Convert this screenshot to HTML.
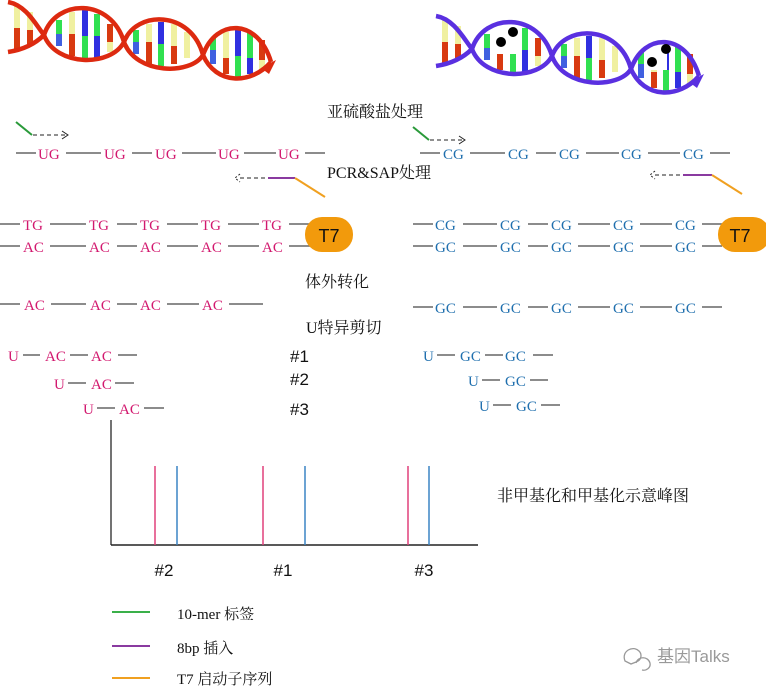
<!DOCTYPE html>
<html><head><meta charset="utf-8"><style>
html,body{margin:0;padding:0;background:#fff;}
svg{display:block;}
.s{font-family:"Liberation Serif","Noto Serif CJK SC",serif;font-size:15px;}
.m{fill:#d2186e;}
.b{fill:#1f6fae;}
.c{font-family:"Liberation Serif","Noto Serif CJK SC",serif;font-size:16px;fill:#111;}
.h{font-family:"Liberation Sans",sans-serif;font-size:18px;fill:#111;}
.g{stroke:#666;stroke-width:1.5;}
</style></head><body>
<svg width="766" height="687" viewBox="0 0 766 687" xmlns="http://www.w3.org/2000/svg">
<defs>
<g id="bars">
 <rect x="18" y="6" width="6" height="22" fill="#f0f0a0"/><rect x="18" y="28" width="6" height="22" fill="#d83a10"/>
 <rect x="31" y="12" width="6" height="18" fill="#f0f0a0"/><rect x="31" y="30" width="6" height="14" fill="#d83a10"/>
 <rect x="60" y="20" width="6" height="14" fill="#30e050"/><rect x="60" y="34" width="6" height="12" fill="#4060e0"/>
 <rect x="73" y="12" width="6" height="22" fill="#f0f0a0"/><rect x="73" y="34" width="6" height="22" fill="#d83a10"/>
 <rect x="86" y="10" width="6" height="26" fill="#3030e0"/><rect x="86" y="36" width="6" height="24" fill="#30e050"/>
 <rect x="98" y="14" width="6" height="22" fill="#30e050"/><rect x="98" y="36" width="6" height="22" fill="#3030e0"/>
 <rect x="111" y="24" width="6" height="18" fill="#d83a10"/><rect x="111" y="42" width="6" height="10" fill="#f0f0a0"/>
 <rect x="137" y="30" width="6" height="12" fill="#30e050"/><rect x="137" y="42" width="6" height="12" fill="#4060e0"/>
 <rect x="150" y="24" width="6" height="18" fill="#f0f0a0"/><rect x="150" y="42" width="6" height="22" fill="#d83a10"/>
 <rect x="162" y="22" width="6" height="22" fill="#3030e0"/><rect x="162" y="44" width="6" height="22" fill="#30e050"/>
 <rect x="175" y="24" width="6" height="22" fill="#f0f0a0"/><rect x="175" y="46" width="6" height="18" fill="#d83a10"/>
 <rect x="188" y="32" width="6" height="26" fill="#f0f0a0"/>
 <rect x="214" y="38" width="6" height="12" fill="#30e050"/><rect x="214" y="50" width="6" height="14" fill="#4060e0"/>
 <rect x="227" y="32" width="6" height="26" fill="#f0f0a0"/><rect x="227" y="58" width="6" height="16" fill="#d83a10"/>
 <rect x="239" y="30" width="6" height="26" fill="#3030e0"/><rect x="239" y="56" width="6" height="22" fill="#30e050"/>
 <rect x="251" y="32" width="6" height="26" fill="#30e050"/><rect x="251" y="58" width="6" height="16" fill="#3030e0"/>
 <rect x="263" y="40" width="6" height="20" fill="#d83a10"/><rect x="263" y="60" width="6" height="10" fill="#f0f0a0"/>
</g>
<path id="strand" d="M12,2 C30,5 40,25 48,35 M12,52 C25,50 38,45 48,35 M48,35 C60,-2 115,-2 128,42 M48,35 C60,67 115,67 128,42 M128,42 C140,10 195,10 207,55 M128,42 C140,75 195,75 207,55 M207,55 C220,18 262,18 275,62 M207,55 C220,85 255,85 275,62" fill="none" stroke-width="4.5"/>
</defs>
<g transform="translate(-4,0)">
 <use href="#bars"/>
 <use href="#strand" stroke="#dd2a10"/>
 <path d="M265,68 L280,60 L273,74 Z" fill="#dd2a10"/>
</g>
<g transform="translate(424,14)">
 <use href="#bars"/>
 <rect x="72" y="10" width="22" height="30" fill="#fff"/>
 <rect x="221" y="26" width="22" height="30" fill="#fff"/>
 <use href="#strand" stroke="#5a30e0"/>
 <path d="M265,68 L280,60 L273,74 Z" fill="#5a30e0"/>
 <circle cx="77" cy="28" r="5" fill="#000"/><circle cx="89" cy="18" r="5" fill="#000"/>
 <circle cx="228" cy="48" r="5" fill="#000"/><circle cx="242" cy="35" r="5" fill="#000"/>
</g>

<text class="c" x="327" y="117">亚硫酸盐处理</text>
<text class="c" x="327" y="178">PCR&amp;SAP处理</text>
<text class="c" x="305" y="287">体外转化</text>
<text class="c" x="306" y="333">U特异剪切</text>

<!-- left primer -->
<line x1="16" y1="122" x2="32" y2="135" stroke="#2a9a3a" stroke-width="2"/>
<line x1="33" y1="135" x2="66" y2="135" stroke="#222" stroke-dasharray="4,3"/>
<path d="M62,131 L68,135 L62,139" fill="none" stroke="#222"/>
<line x1="16" y1="153" x2="36" y2="153" class="g"/><line x1="66" y1="153" x2="101" y2="153" class="g"/><line x1="132" y1="153" x2="152" y2="153" class="g"/><line x1="182" y1="153" x2="216" y2="153" class="g"/><line x1="244" y1="153" x2="276" y2="153" class="g"/><line x1="305" y1="153" x2="325" y2="153" class="g"/>
<g class="s m"><text x="38" y="159">UG</text><text x="104" y="159">UG</text><text x="155" y="159">UG</text><text x="218" y="159">UG</text><text x="278" y="159">UG</text></g>
<line x1="240" y1="178" x2="268" y2="178" stroke="#222" stroke-dasharray="4,3"/>
<path d="M240,174 L235,178 L240,182" fill="none" stroke="#222" stroke-dasharray="2,2"/>
<line x1="268" y1="178" x2="295" y2="178" stroke="#8a3aa0" stroke-width="2"/>
<line x1="295" y1="178" x2="325" y2="197" stroke="#f0a020" stroke-width="2"/>

<!-- right primer -->
<line x1="413" y1="127" x2="429" y2="140" stroke="#2a9a3a" stroke-width="2"/>
<line x1="430" y1="140" x2="463" y2="140" stroke="#222" stroke-dasharray="4,3"/>
<path d="M459,136 L465,140 L459,144" fill="none" stroke="#222"/>
<line x1="420" y1="153" x2="440" y2="153" class="g"/><line x1="470" y1="153" x2="505" y2="153" class="g"/><line x1="536" y1="153" x2="556" y2="153" class="g"/><line x1="586" y1="153" x2="619" y2="153" class="g"/><line x1="648" y1="153" x2="680" y2="153" class="g"/><line x1="710" y1="153" x2="730" y2="153" class="g"/>
<g class="s b"><text x="443" y="159">CG</text><text x="508" y="159">CG</text><text x="559" y="159">CG</text><text x="621" y="159">CG</text><text x="683" y="159">CG</text></g>
<line x1="655" y1="175" x2="683" y2="175" stroke="#222" stroke-dasharray="4,3"/>
<path d="M655,171 L650,175 L655,179" fill="none" stroke="#222" stroke-dasharray="2,2"/>
<line x1="683" y1="175" x2="712" y2="175" stroke="#8a3aa0" stroke-width="2"/>
<line x1="712" y1="175" x2="742" y2="194" stroke="#f0a020" stroke-width="2"/>

<!-- left double strand -->
<g class="g">
<line x1="0" y1="224" x2="20" y2="224"/><line x1="50" y1="224" x2="86" y2="224"/><line x1="117" y1="224" x2="137" y2="224"/><line x1="167" y1="224" x2="198" y2="224"/><line x1="228" y1="224" x2="259" y2="224"/><line x1="289" y1="224" x2="310" y2="224"/>
<line x1="0" y1="246" x2="20" y2="246"/><line x1="50" y1="246" x2="86" y2="246"/><line x1="117" y1="246" x2="137" y2="246"/><line x1="167" y1="246" x2="198" y2="246"/><line x1="228" y1="246" x2="259" y2="246"/><line x1="289" y1="246" x2="310" y2="246"/>
</g>
<g class="s m"><text x="23" y="230">TG</text><text x="89" y="230">TG</text><text x="140" y="230">TG</text><text x="201" y="230">TG</text><text x="262" y="230">TG</text>
<text x="23" y="252">AC</text><text x="89" y="252">AC</text><text x="140" y="252">AC</text><text x="201" y="252">AC</text><text x="262" y="252">AC</text></g>
<rect x="305" y="217" width="48" height="35" rx="17" fill="#f29a0c"/>
<text class="h" x="329" y="242" text-anchor="middle">T7</text>

<!-- right double strand -->
<g class="g">
<line x1="413" y1="224" x2="433" y2="224"/><line x1="463" y1="224" x2="497" y2="224"/><line x1="528" y1="224" x2="548" y2="224"/><line x1="578" y1="224" x2="610" y2="224"/><line x1="640" y1="224" x2="672" y2="224"/><line x1="702" y1="224" x2="722" y2="224"/>
<line x1="413" y1="246" x2="433" y2="246"/><line x1="463" y1="246" x2="497" y2="246"/><line x1="528" y1="246" x2="548" y2="246"/><line x1="578" y1="246" x2="610" y2="246"/><line x1="640" y1="246" x2="672" y2="246"/><line x1="702" y1="246" x2="722" y2="246"/>
</g>
<g class="s b"><text x="435" y="230">CG</text><text x="500" y="230">CG</text><text x="551" y="230">CG</text><text x="613" y="230">CG</text><text x="675" y="230">CG</text>
<text x="435" y="252">GC</text><text x="500" y="252">GC</text><text x="551" y="252">GC</text><text x="613" y="252">GC</text><text x="675" y="252">GC</text></g>
<rect x="718" y="217" width="52" height="35" rx="17" fill="#f29a0c"/>
<text class="h" x="740" y="242" text-anchor="middle">T7</text>

<!-- single strand after conversion -->
<g class="g">
<line x1="0" y1="304" x2="20" y2="304"/><line x1="51" y1="304" x2="86" y2="304"/><line x1="117" y1="304" x2="137" y2="304"/><line x1="167" y1="304" x2="199" y2="304"/><line x1="229" y1="304" x2="263" y2="304"/>
<line x1="413" y1="307" x2="433" y2="307"/><line x1="463" y1="307" x2="497" y2="307"/><line x1="528" y1="307" x2="548" y2="307"/><line x1="578" y1="307" x2="610" y2="307"/><line x1="640" y1="307" x2="672" y2="307"/><line x1="702" y1="307" x2="722" y2="307"/>
</g>
<g class="s m"><text x="24" y="310">AC</text><text x="90" y="310">AC</text><text x="140" y="310">AC</text><text x="202" y="310">AC</text></g>
<g class="s b"><text x="435" y="313">GC</text><text x="500" y="313">GC</text><text x="551" y="313">GC</text><text x="613" y="313">GC</text><text x="675" y="313">GC</text></g>

<!-- fragments -->
<g class="g">
<line x1="23" y1="355" x2="40" y2="355"/><line x1="70" y1="355" x2="88" y2="355"/><line x1="118" y1="355" x2="137" y2="355"/>
<line x1="68" y1="383" x2="86" y2="383"/><line x1="115" y1="383" x2="134" y2="383"/>
<line x1="97" y1="408" x2="115" y2="408"/><line x1="144" y1="408" x2="164" y2="408"/>
<line x1="437" y1="355" x2="455" y2="355"/><line x1="485" y1="355" x2="503" y2="355"/><line x1="533" y1="355" x2="553" y2="355"/>
<line x1="482" y1="380" x2="500" y2="380"/><line x1="530" y1="380" x2="548" y2="380"/>
<line x1="493" y1="405" x2="511" y2="405"/><line x1="541" y1="405" x2="560" y2="405"/>
</g>
<g class="s m"><text x="8" y="361">U</text><text x="45" y="361">AC</text><text x="91" y="361">AC</text>
<text x="54" y="389">U</text><text x="91" y="389">AC</text>
<text x="83" y="414">U</text><text x="119" y="414">AC</text></g>
<g class="s b"><text x="423" y="361">U</text><text x="460" y="361">GC</text><text x="505" y="361">GC</text>
<text x="468" y="386">U</text><text x="505" y="386">GC</text>
<text x="479" y="411">U</text><text x="516" y="411">GC</text></g>
<g class="h" style="font-size:17px"><text x="290" y="362">#1</text><text x="290" y="385">#2</text><text x="290" y="415">#3</text></g>

<!-- chart -->
<line x1="111" y1="420" x2="111" y2="545" stroke="#444" stroke-width="1.5"/>
<line x1="111" y1="545" x2="478" y2="545" stroke="#222" stroke-width="1.5"/>
<g stroke-width="1.5">
<line x1="155" y1="466" x2="155" y2="545" stroke="#e0407a"/><line x1="177" y1="466" x2="177" y2="545" stroke="#3a84c4"/>
<line x1="263" y1="466" x2="263" y2="545" stroke="#e0407a"/><line x1="305" y1="466" x2="305" y2="545" stroke="#3a84c4"/>
<line x1="408" y1="466" x2="408" y2="545" stroke="#e0407a"/><line x1="429" y1="466" x2="429" y2="545" stroke="#3a84c4"/>
</g>
<g class="h" style="font-size:17px" text-anchor="middle"><text x="164" y="576">#2</text><text x="283" y="576">#1</text><text x="424" y="576">#3</text></g>
<text class="c" x="497" y="501">非甲基化和甲基化示意峰图</text>

<!-- legend -->
<line x1="112" y1="612" x2="150" y2="612" stroke="#3ab04a" stroke-width="2"/>
<line x1="112" y1="646" x2="150" y2="646" stroke="#8a3aa0" stroke-width="2"/>
<line x1="112" y1="678" x2="150" y2="678" stroke="#f0a020" stroke-width="2"/>
<text class="c" x="177" y="619" style="font-size:15px">10-mer 标签</text>
<text class="c" x="177" y="653" style="font-size:15px">8bp 插入</text>
<text class="c" x="177" y="684" style="font-size:15px">T7 启动子序列</text>
<g fill="none" stroke="#999" stroke-width="1.3">
<path d="M625,661 c-4,-10 8,-16 14,-10 c3,3 3,9 -3,11 l-5,2 z"/>
<path d="M636,663 c2,-7 12,-7 14,0 c1,5 -4,8 -8,7"/>
</g>
<text x="657" y="662" style="font-family:'Liberation Sans','Noto Sans CJK SC',sans-serif;font-size:17px;fill:#999">基因Talks</text>
</svg>
</body></html>
